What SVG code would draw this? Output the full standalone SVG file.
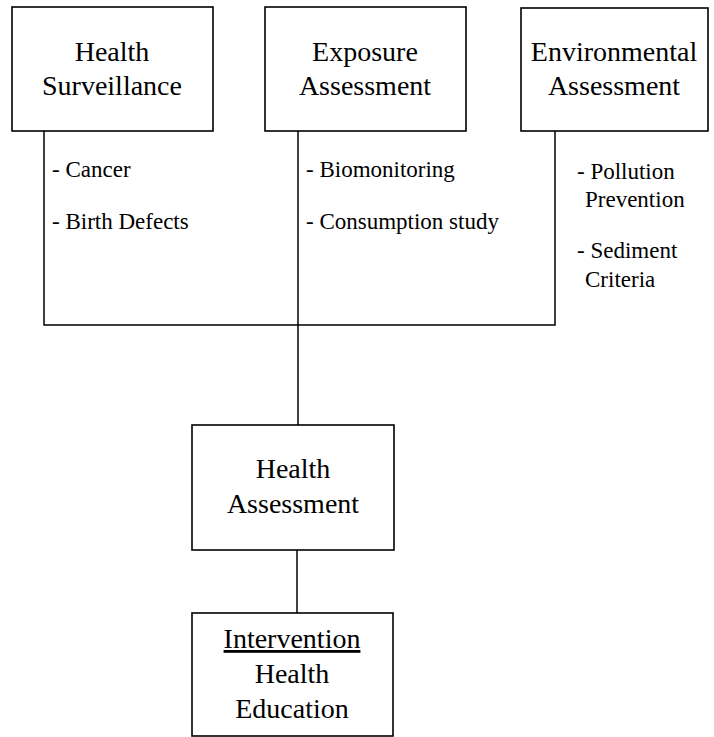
<svg xmlns="http://www.w3.org/2000/svg" width="714" height="737" viewBox="0 0 714 737">
<style>
.box{fill:#fff;stroke:#000;stroke-width:1.6}
.t{font-family:"Liberation Serif","Times New Roman",serif;font-size:28px;fill:#000;text-anchor:middle}
.l{font-family:"Liberation Serif","Times New Roman",serif;font-size:23px;fill:#000}
.c{fill:none;stroke:#000;stroke-width:1.5}
</style>
<rect width="714" height="737" fill="#fff"/>
<g id="connectors">
<path class="c" d="M44 131V325H555V131"/>
<path class="c" d="M298 131V425"/>
<path class="c" d="M297 550V613"/>
</g>
<g id="health-surveillance">
<rect class="box" x="12" y="7" width="201" height="124"/>
<text class="t" x="112" y="61">Health</text>
<text class="t" x="112" y="95">Surveillance</text>
<text class="l" x="52" y="177">- Cancer</text>
<text class="l" x="52" y="229">- Birth Defects</text>
</g>
<g id="exposure-assessment">
<rect class="box" x="265" y="7" width="201" height="124"/>
<text class="t" x="365" y="61">Exposure</text>
<text class="t" x="365" y="95">Assessment</text>
<text class="l" x="306" y="177">- Biomonitoring</text>
<text class="l" x="306" y="229">- Consumption study</text>
</g>
<g id="environmental-assessment">
<rect class="box" x="521" y="8" width="187" height="123"/>
<text class="t" x="614" y="61">Environmental</text>
<text class="t" x="614" y="95">Assessment</text>
<text class="l" x="577" y="179">- Pollution</text>
<text class="l" x="585" y="207">Prevention</text>
<text class="l" x="577" y="258">- Sediment</text>
<text class="l" x="585" y="287">Criteria</text>
</g>
<g id="health-assessment">
<rect class="box" x="192" y="425" width="202" height="125"/>
<text class="t" x="293" y="478">Health</text>
<text class="t" x="293" y="513">Assessment</text>
</g>
<g id="intervention">
<rect class="box" x="192" y="613" width="201" height="123"/>
<text class="t" x="292" y="648" text-decoration="underline">Intervention</text>
<text class="t" x="292" y="683">Health</text>
<text class="t" x="292" y="718">Education</text>
</g>
</svg>
